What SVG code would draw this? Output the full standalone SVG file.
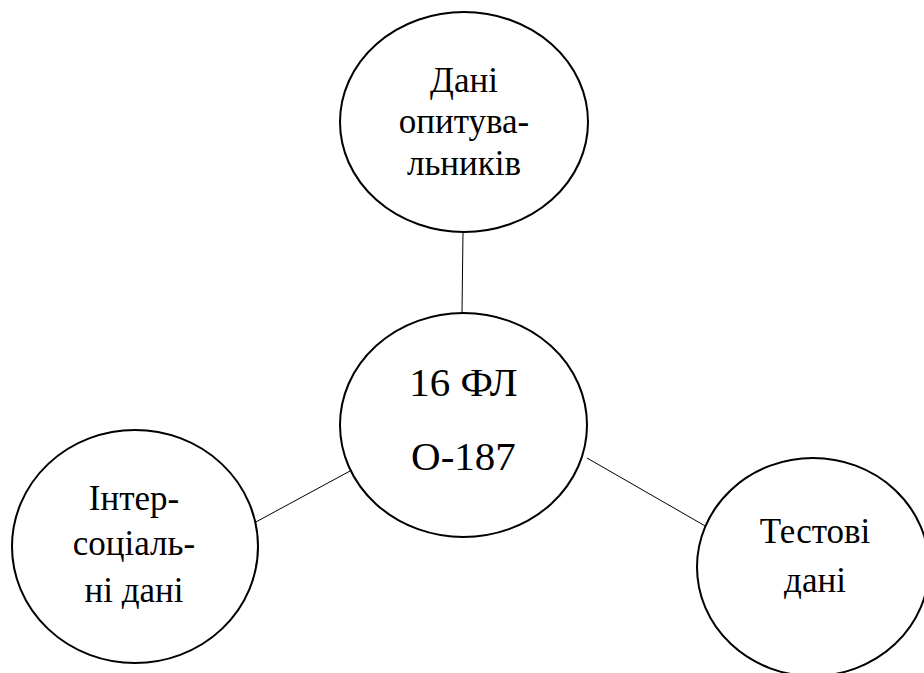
<svg xmlns="http://www.w3.org/2000/svg" width="924" height="673" viewBox="0 0 924 673">
  <style>
    .node ellipse { fill: #ffffff; stroke: #000000; stroke-width: 2; }
    .node text { fill: #000000; text-anchor: middle; }
    .small { font-size: 35px; }
    .big { font-size: 41px; }
    #connectors line { stroke: #000000; stroke-width: 1; }
  </style>
  <rect width="924" height="673" fill="#ffffff"/>

  <!-- links between the central node and the three data sources -->
  <g id="connectors">
    <line x1="463" y1="232" x2="462" y2="313"/>
    <line x1="254" y1="523" x2="350" y2="471"/>
    <line x1="587" y1="458" x2="707" y2="527"/>
  </g>

  <g font-family="'Liberation Serif', 'Times New Roman', 'DejaVu Serif', serif">
    <g id="node-survey" class="node">
      <ellipse cx="464" cy="122" rx="124" ry="110"/>
      <text class="small" x="464" y="92">Дані</text>
      <text class="small" x="464" y="133">опитува-</text>
      <text class="small" x="464" y="175">льників</text>
    </g>

    <g id="node-center" class="node">
      <ellipse cx="463.5" cy="425" rx="123.5" ry="112"/>
      <text class="big" x="463.5" y="396">16 ФЛ</text>
      <text class="big" x="463.5" y="470">О-187</text>
    </g>

    <g id="node-intersocial" class="node">
      <ellipse cx="135" cy="546.5" rx="123" ry="116.5"/>
      <text class="small" x="134" y="510">Інтер-</text>
      <text class="small" x="134" y="555">соціаль-</text>
      <text class="small" x="134" y="602">ні дані</text>
    </g>

    <g id="node-tests" class="node">
      <ellipse cx="813" cy="567" rx="116" ry="109"/>
      <text class="small" x="815" y="543">Тестові</text>
      <text class="small" x="815" y="592">дані</text>
    </g>
  </g>
</svg>
